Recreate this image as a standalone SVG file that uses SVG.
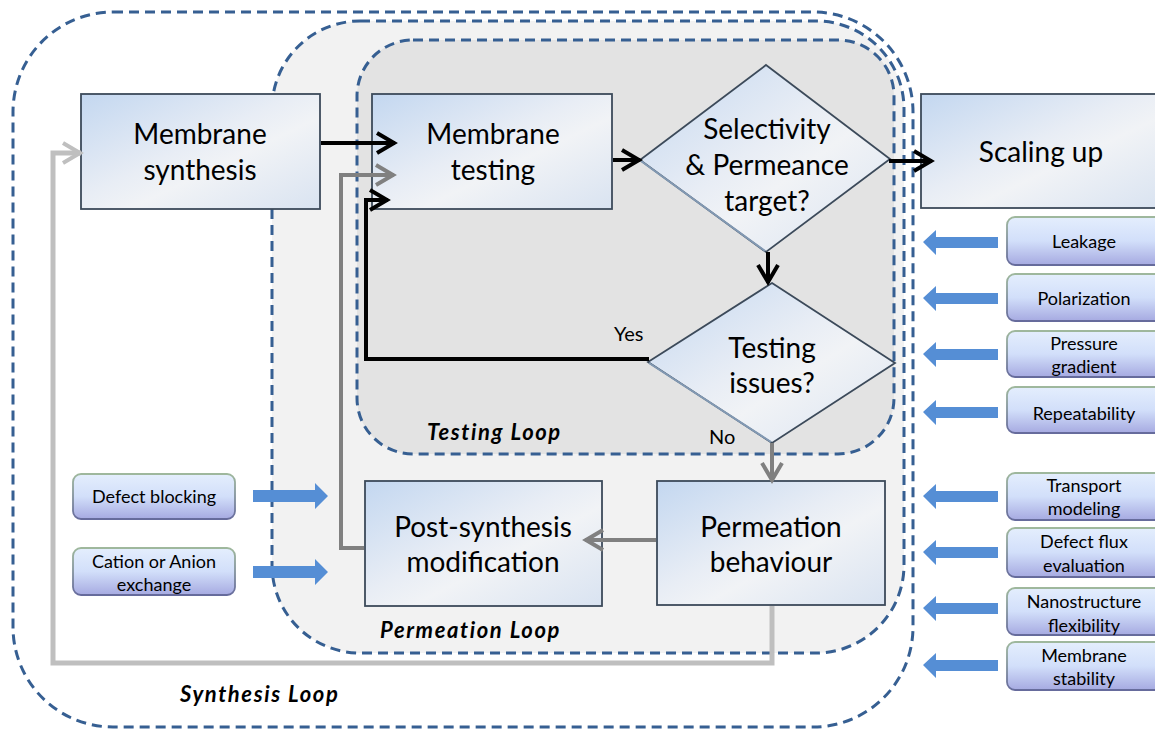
<svg xmlns="http://www.w3.org/2000/svg" width="1155" height="730" viewBox="0 0 1155 730">
<style>
.loop{stroke:#365f92;stroke-width:3;stroke-dasharray:10 6;}
.box{fill:url(#boxGrad);stroke:#3c4a5a;stroke-width:1.8;}
.edge{fill:none;stroke:#8299b3;stroke-width:2;}
.sbox{fill:url(#sGrad);stroke:url(#sStroke);stroke-width:1.8;}
.t{font-family:Lato,"Open Sans",sans-serif;font-size:28px;fill:#000;text-anchor:middle;}
.s{font-family:Lato,"Open Sans",sans-serif;font-size:18px;fill:#000;text-anchor:middle;}
.lbl{font-family:Lato,"Open Sans",sans-serif;font-size:22px;font-weight:bold;font-style:italic;fill:#000;letter-spacing:1.6px;}
.yn{font-family:Lato,"Open Sans",sans-serif;font-size:20px;fill:#000;}
.blk{stroke:#000;stroke-width:4;fill:none;}
.gry{stroke:#808080;stroke-width:4;fill:none;}
.lgr{stroke:#bfbfbf;stroke-width:5;fill:none;}
.blue{fill:#558ed5;}
</style>
<defs>
<linearGradient id="boxGrad" x1="0" y1="0" x2="1" y2="1">
<stop offset="0" stop-color="#c3d7f0"/>
<stop offset="0.45" stop-color="#e8edf5"/>
<stop offset="0.6" stop-color="#f1f3f6"/>
<stop offset="1" stop-color="#d9e3f1"/>
</linearGradient>
<linearGradient id="sGrad" x1="0" y1="0" x2="0" y2="1">
<stop offset="0" stop-color="#e4eefd"/>
<stop offset="0.5" stop-color="#d2dffa"/>
<stop offset="1" stop-color="#a6aae1"/>
</linearGradient>
<linearGradient id="sStroke" x1="0" y1="0" x2="0" y2="1">
<stop offset="0" stop-color="#9fb89d"/>
<stop offset="1" stop-color="#666b9c"/>
</linearGradient>
<marker id="mBlk" markerUnits="userSpaceOnUse" viewBox="0 0 26 26" markerWidth="26" markerHeight="26" refX="22" refY="13" orient="auto">
<path d="M4,3 L21,13 L4,23" fill="none" stroke="#000" stroke-width="4"/>
</marker>
<marker id="mGry" markerUnits="userSpaceOnUse" viewBox="0 0 26 26" markerWidth="26" markerHeight="26" refX="22" refY="13" orient="auto">
<path d="M4,3 L21,13 L4,23" fill="none" stroke="#808080" stroke-width="4"/>
</marker>
<marker id="mLgr" markerUnits="userSpaceOnUse" viewBox="0 0 26 26" markerWidth="26" markerHeight="26" refX="22" refY="13" orient="auto">
<path d="M4,3 L21,13 L4,23" fill="none" stroke="#bfbfbf" stroke-width="4"/>
</marker>
</defs>
<rect width="1155" height="730" fill="#fff"/>

<g id="loops">
<rect id="synthesis-loop" class="loop" x="13" y="12" width="900" height="715" rx="100" fill="none"/>
<rect id="permeation-loop" class="loop" x="272" y="21" width="632" height="632" rx="88" fill="#f2f2f2"/>
<rect id="testing-loop" class="loop" x="357" y="40" width="537" height="414" rx="56" fill="#e3e3e3"/>
<text class="lbl" x="427" y="440">Testing Loop</text>
<text class="lbl" x="380" y="638">Permeation Loop</text>
<text class="lbl" x="180" y="702">Synthesis Loop</text>
</g>

<g id="membrane-synthesis">
<rect class="box" x="81" y="94" width="239" height="115"/>
<text class="t" x="200" y="144">Membrane</text>
<text class="t" x="200" y="180">synthesis</text>
</g>
<g id="membrane-testing">
<rect class="box" x="372" y="94" width="240" height="115"/>
<text class="t" x="493" y="144">Membrane</text>
<text class="t" x="493" y="180">testing</text>
</g>
<g id="selectivity-target">
<polygon class="box" points="766,65 890,159 766,252 640,160"/>
<path class="edge" d="M641,161 L765,251"/>
<text class="t" x="767" y="139">Selectivity</text>
<text class="t" x="767" y="175">&amp; Permeance</text>
<text class="t" x="767" y="211">target?</text>
</g>
<g id="testing-issues">
<polygon class="box" points="772,283 895,363 772,443 648,362"/>
<path class="edge" d="M649,363 L771,442"/>
<text class="t" x="772" y="358">Testing</text>
<text class="t" x="772" y="393">issues?</text>
</g>
<g id="scaling-up">
<rect class="box" x="921" y="94" width="240" height="114"/>
<text class="t" x="1041" y="162">Scaling up</text>
</g>
<g id="permeation-behaviour">
<rect class="box" x="657" y="481" width="228" height="124"/>
<text class="t" x="771" y="537">Permeation</text>
<text class="t" x="771" y="572">behaviour</text>
</g>
<g id="post-synthesis">
<rect class="box" x="365" y="481" width="237" height="125"/>
<text class="t" x="483" y="537">Post-synthesis</text>
<text class="t" x="483" y="572">modification</text>
</g>

<g id="defect-blocking">
<rect class="sbox" x="73" y="474" width="162" height="45" rx="8"/>
<text class="s" x="154" y="503">Defect blocking</text>
<polygon class="blue" points="253,490 315,490 315,483 328,496 315,509 315,502 253,502"/>
</g>
<g id="cation-anion-exchange">
<rect class="sbox" x="73" y="548" width="162" height="47" rx="8"/>
<text class="s" x="154" y="568">Cation or Anion</text>
<text class="s" x="154" y="591">exchange</text>
<polygon class="blue" points="253,566 315,566 315,559 328,572 315,585 315,578 253,578"/>
</g>

<g id="leakage">
<rect class="sbox" x="1007" y="217" width="160" height="48" rx="8"/>
<text class="s" x="1084" y="248">Leakage</text>
<polygon class="blue" points="998,237 936,237 936,230 923,242 936,255 936,248 998,248"/>
</g>
<g id="polarization">
<rect class="sbox" x="1007" y="274" width="160" height="47" rx="8"/>
<text class="s" x="1084" y="305">Polarization</text>
<polygon class="blue" points="998,293 936,293 936,286 923,298 936,311 936,304 998,304"/>
</g>
<g id="pressure-gradient">
<rect class="sbox" x="1007" y="331" width="160" height="46" rx="8"/>
<text class="s" x="1084" y="350">Pressure</text>
<text class="s" x="1084" y="373">gradient</text>
<polygon class="blue" points="998,349 936,349 936,342 923,354 936,367 936,360 998,360"/>
</g>
<g id="repeatability">
<rect class="sbox" x="1007" y="387" width="160" height="46" rx="8"/>
<text class="s" x="1084" y="420">Repeatability</text>
<polygon class="blue" points="998,407 936,407 936,400 923,412 936,425 936,418 998,418"/>
</g>
<g id="transport-modeling">
<rect class="sbox" x="1007" y="473" width="160" height="47" rx="8"/>
<text class="s" x="1084" y="492">Transport</text>
<text class="s" x="1084" y="515">modeling</text>
<polygon class="blue" points="998,491 936,491 936,484 923,496 936,509 936,502 998,502"/>
</g>
<g id="defect-flux">
<rect class="sbox" x="1007" y="528" width="160" height="49" rx="8"/>
<text class="s" x="1084" y="548">Defect flux</text>
<text class="s" x="1084" y="572">evaluation</text>
<polygon class="blue" points="998,547 936,547 936,540 923,552 936,565 936,558 998,558"/>
</g>
<g id="nanostructure-flexibility">
<rect class="sbox" x="1007" y="588" width="160" height="47" rx="8"/>
<text class="s" x="1084" y="608">Nanostructure</text>
<text class="s" x="1084" y="632">flexibility</text>
<polygon class="blue" points="998,603 936,603 936,596 923,608 936,621 936,614 998,614"/>
</g>
<g id="membrane-stability">
<rect class="sbox" x="1007" y="642" width="160" height="48" rx="8"/>
<text class="s" x="1084" y="662">Membrane</text>
<text class="s" x="1084" y="685">stability</text>
<polygon class="blue" points="998,660 936,660 936,653 923,665 936,678 936,671 998,671"/>
</g>

<g id="connectors">
<path class="lgr" d="M772,606 L772,663 L53,663 L53,153 L81,153" marker-end="url(#mLgr)"/>
<path class="gry" d="M364,548 L341,548 L341,175 L394,175" marker-end="url(#mGry)"/>
<path class="blk" d="M321,143 L395,143" marker-end="url(#mBlk)"/>
<path class="blk" d="M613,160 L640,160" marker-end="url(#mBlk)"/>
<path class="blk" d="M889,161 L932,161" marker-end="url(#mBlk)"/>
<path class="blk" d="M768,252 L768,283" marker-end="url(#mBlk)"/>
<path class="blk" d="M649,359 L366,359 L366,200 L388,200" marker-end="url(#mBlk)"/>
<path class="gry" d="M772,443 L772,481" marker-end="url(#mGry)"/>
<path class="gry" d="M656,540 L585,540" marker-end="url(#mGry)"/>
<text class="yn" x="614" y="341">Yes</text>
<text class="yn" x="709" y="444">No</text>
</g>
</svg>
